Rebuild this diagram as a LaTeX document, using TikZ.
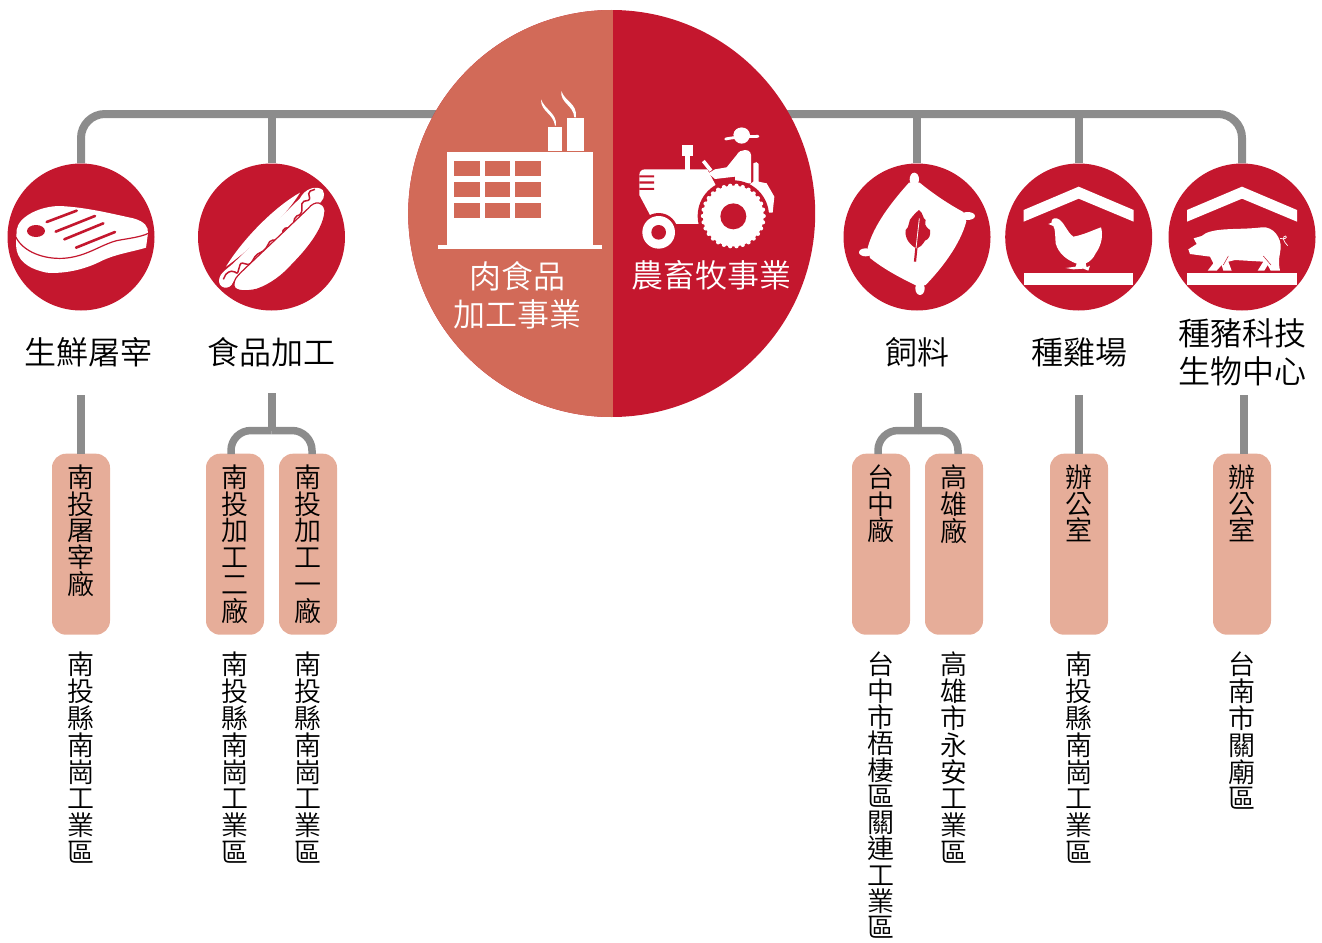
\documentclass[tikz,border=0pt]{standalone}
\usepackage{fontspec}
\newfontfamily\cjk{Noto Sans CJK TC DemiLight}
\usetikzlibrary{backgrounds}
\definecolor{crimson}{HTML}{C4172E}
\definecolor{salmon}{HTML}{D26A58}
\definecolor{pillc}{HTML}{E6AD99}
\definecolor{linec}{HTML}{8C8C8C}
\lineskiplimit=-20pt
\tikzset{
  medal/.style={circle,fill=crimson,inner sep=0pt,minimum size=147pt},
  conn/.style={draw=linec,line width=8pt},
  pill/.style={rectangle,rounded corners=14pt,fill=pillc,inner sep=0pt,minimum width=58pt,minimum height=181pt,anchor=north},
  vtxt/.style={font=\cjk\fontsize{27}{26.8}\selectfont,align=center,inner sep=0pt,anchor=north,text=black},
  vtight/.style={vtxt,font=\cjk\fontsize{27}{26.3}\selectfont},
  heading/.style={font=\cjk\fontsize{32}{38}\selectfont,align=center,inner sep=0pt,text=black},
  herotxt/.style={font=\cjk\fontsize{32}{38}\selectfont,align=center,inner sep=0pt,text=white},
  zoomA/.style={shift={(0,150)},x=0.33333pt,y=-0.33333pt},
  zoomB/.style={shift={(420,80)},x=0.33333pt,y=-0.33333pt},
  zoomC/.style={shift={(835,150)},x=0.33333pt,y=-0.33333pt},
}
\begin{document}
\begin{tikzpicture}[x=1pt,y=-1pt]
\useasboundingbox (0,0) rectangle (1322,942);
\node[circle,inner sep=0pt,minimum size=407pt,fill=crimson,
  path picture={\fill[salmon] (path picture bounding box.south west) rectangle ([xshift=1.3pt]path picture bounding box.north);}] (big) at (611.7,213.5) {};
\node[medal] (m1) at (81,237) {};
\node[medal] (m2) at (271.5,237) {};
\node[medal] (m3) at (917,237) {};
\node[medal] (m4) at (1078.7,237) {};
\node[medal] (m5) at (1242,237) {};
\coordinate (busc) at (612,114);
\begin{scope}[on background layer]
\draw[conn,rounded corners=24pt] (busc) -| (m1.north);
\draw[conn] (busc) -| (m2.north);
\draw[conn] (busc) -| (m3.north);
\draw[conn] (busc) -| (m4.north);
\draw[conn,rounded corners=24pt] (busc) -| (m5.north);
\end{scope}
% headings
\node[heading] (h1) at (88,352) {生鮮屠宰};
\node[heading] (h2) at (271,352) {食品加工};
\node[heading] (h3) at (917,352) {飼料};
\node[heading] (h4) at (1079,352) {種雞場};
\node[heading] (h5) at (1242,352) {種豬科技\\生物中心};
\node[herotxt] (t1) at (517,295) {肉食品\\加工事業};
\node[herotxt] (t2) at (711,275) {農畜牧事業};
% pills
\node[pill] (p1) at (81,453.5) {};
\node[pill] (p2) at (235,453.5) {};
\node[pill] (p3) at (308,453.5) {};
\node[pill] (p4) at (881,453.5) {};
\node[pill] (p5) at (954,453.5) {};
\node[pill] (p6) at (1079,453.5) {};
\node[pill] (p7) at (1242,453.5) {};
\coordinate (f1) at (81,395);
\coordinate (f2) at (271.5,393);
\coordinate (j2) at (271.5,430.5);
\coordinate (k2) at (231,454);
\coordinate (k3) at (312,454);
\coordinate (f4) at (918,393);
\coordinate (j4) at (918,430.5);
\coordinate (k4) at (878,454);
\coordinate (k5) at (958,454);
\coordinate (f6) at (1079,395);
\coordinate (f7) at (1244,395);
\coordinate (e7) at (1244,453.5);
\draw[conn] (f1) -- (p1.north);
\draw[conn] (f2) -- (j2);
\draw[conn,line width=7.5pt,rounded corners=20pt] (j2) -| (k2);
\draw[conn,line width=7.5pt,rounded corners=20pt] (j2) -| (k3);
\draw[conn] (f4) -- (j4);
\draw[conn,line width=7.5pt,rounded corners=20pt] (j4) -| (k4);
\draw[conn,line width=7.5pt,rounded corners=20pt] (j4) -| (k5);
\draw[conn] (f6) -- (p6.north);
\draw[conn] (f7) -- (e7);
% pill labels
\node[vtxt] (a1) at (81,464.5) {南\\投\\屠\\宰\\廠};
\node[vtxt] (a2) at (235,464.5) {南\\投\\加\\工\\二\\廠};
\node[vtxt] (a3) at (308,464.5) {南\\投\\加\\工\\一\\廠};
\node[vtxt] (a4) at (881,464.5) {台\\中\\廠};
\node[vtxt] (a5) at (954,464.5) {高\\雄\\廠};
\node[vtxt] (a6) at (1079,464.5) {辦\\公\\室};
\node[vtxt] (a7) at (1242,464.5) {辦\\公\\室};
% addresses
\node[vtxt] (b1) at (81,652) {南\\投\\縣\\南\\崗\\工\\業\\區};
\node[vtxt] (b2) at (235,652) {南\\投\\縣\\南\\崗\\工\\業\\區};
\node[vtxt] (b3) at (308,652) {南\\投\\縣\\南\\崗\\工\\業\\區};
\node[vtight] (b4) at (881,652) {台\\中\\市\\梧\\棲\\區\\關\\連\\工\\業\\區};
\node[vtxt] (b5) at (954,652) {高\\雄\\市\\永\\安\\工\\業\\區};
\node[vtxt] (b6) at (1079,652) {南\\投\\縣\\南\\崗\\工\\業\\區};
\node[vtxt] (b7) at (1242,652) {台\\南\\市\\關\\廟\\區};
% ---- meat
\begin{scope}[zoomA]
\fill[white] (50,240) .. controls (55,200) and (120,168) .. (180,168)
  .. controls (260,172) and (330,190) .. (400,205)
  .. controls (435,215) and (445,230) .. (444,250)
  -- (438,293) .. controls (400,305) and (345,312) .. (300,335)
  .. controls (250,360) and (190,372) .. (140,368)
  .. controls (80,355) and (50,330) .. (48,285) -- cycle;
\draw[crimson,line width=1.2pt] (48,262) .. controls (70,305) and (130,328) .. (190,325)
  .. controls (260,320) and (300,285) .. (350,272) .. controls (385,265) and (420,262) .. (445,250);
\fill[crimson] (108,243) ellipse (27 and 18);
\draw[crimson,line width=2.6pt,line cap=round] (140,216) -- (230,182) (167,245) -- (285,198) (193,268) -- (310,220) (228,293) -- (345,246);
% ---- hot dog
\fill[white] (678,350) .. controls (730,265) and (825,170) .. (900,128) .. controls (860,195) and (760,290) .. (678,350) -- cycle;
\fill[white] (658,385) .. controls (660,370) and (680,358) .. (700,340) -- (900,145) .. controls (915,115) and (950,105) .. (968,120)
  .. controls (978,135) and (970,155) .. (950,165) -- (700,395) .. controls (690,425) and (650,415) .. (658,385) -- cycle;
\draw[crimson,line width=1.5pt,rounded corners=2pt] (670,388) -- (680,368) -- (700,362) -- (712,372) -- (722,338) -- (750,345) -- (768,315) -- (795,300) -- (812,270) -- (845,272) -- (850,235) -- (878,232) -- (885,200) -- (905,192) -- (906,155) -- (930,150) -- (925,125) -- (945,118);
\fill[white,draw=crimson,line width=1.2pt] (702,408) .. controls (700,390) and (710,380) .. (725,365) -- (925,175) .. controls (945,150) and (970,155) .. (975,180)
  .. controls (975,230) and (925,295) .. (880,340) .. controls (850,375) and (810,405) .. (770,418) .. controls (740,425) and (705,425) .. (702,408) -- cycle;
\end{scope}
% ---- factory and tractor
\begin{scope}[zoomB]
\fill[white] (82,217) rectangle (519,495);
\fill[white] (55,495) rectangle (547,507);
\foreach \xa/\xb in {103/181,194/271,285/362}
  \foreach \ya/\yb in {242/287,305/350,369/414}
    \fill[salmon] (\xa,\ya) rectangle (\xb,\yb);
\fill[white] (384,140) rectangle (426,213);
\fill[white] (441,114) rectangle (492,213);
\fill[white] (363,58) .. controls (362,95) and (400,100) .. (405,137) -- (408,137) .. controls (412,100) and (375,90) .. (363,58) -- cycle;
\fill[white] (424,33) .. controls (420,70) and (460,75) .. (463,112) -- (468,112) .. controls (472,70) and (435,65) .. (424,33) -- cycle;
% tractor
\fill[white] (675,268) -- (862,268) -- (900,340) -- (860,432) -- (765,432) -- (720,400) -- (690,405) -- (658,345) -- (658,285) .. controls (658,275) and (665,268) .. (675,268) -- cycle;
\fill[crimson] (658,286) rectangle (702,292) (658,304) rectangle (702,311) (658,324) rectangle (702,330);
\fill[white] (786,194) rectangle (818,228);
\fill[white] (795,228) rectangle (810,270);
\draw[white,line width=3.6pt] (850,243) -- (873,272);
% driver
\fill[white] (965,167) circle (24);
\fill[white] (940,165) .. controls (942,135) and (988,135) .. (990,165) -- cycle;
\draw[white,line width=2.8pt,line cap=round] (917,177) .. controls (950,170) and (985,170) .. (1014,169);
\fill[white] (975,210) .. controls (990,210) and (995,220) .. (993,235) -- (993,310) -- (945,310) -- (945,290) -- (885,297) -- (865,280) -- (885,268) -- (920,262) -- (950,225) .. controls (955,215) and (965,210) .. (975,210) -- cycle;
\fill[white] (1000,250) .. controls (1005,245) and (1015,245) .. (1016,252) -- (1016,305) -- (1040,310) -- (1063,350) -- (1058,398) -- (1040,398) -- (980,320) -- (1000,305) -- cycle;
% wheels
\fill[crimson] (940,408) circle (107);
\fill[white] (940,408) circle (91);
\foreach \a in {0,12,...,348} \fill[white] (940,408) ++(\a:91) circle (6.5);
\fill[crimson] (940,409) circle (39);
\fill[crimson] (716,457) circle (58);
\fill[white] (716,457) circle (49);
\fill[crimson] (716,457) circle (22);
\end{scope}
% ---- sack, hen, pig
\begin{scope}[zoomC]
\fill[white] (222,98) -- (254,98) .. controls (295,132) and (345,165) .. (385,186) -- (394,214) .. controls (375,285) and (320,355) .. (272,405)
  -- (240,405) .. controls (200,385) and (150,360) .. (105,324) -- (98,294) .. controls (115,225) and (175,150) .. (222,98) -- cycle;
\fill[white] (238,88) ellipse (14 and 20);
\fill[white] (255,415) ellipse (14 and 20);
\fill[white] (398,198) ellipse (22 and 12);
\fill[white] (92,307) ellipse (20 and 12);
\fill[crimson] (252,180) .. controls (265,188) and (262,205) .. (272,210) .. controls (270,222) and (268,228) .. (285,240) .. controls (288,255) and (282,268) .. (270,272)
  .. controls (262,285) and (255,292) .. (245,296) .. controls (225,285) and (208,265) .. (212,240) .. controls (225,232) and (218,210) .. (232,200) .. controls (238,192) and (245,185) .. (252,180) -- cycle;
\draw[crimson,line width=2.2pt] (245,285) -- (240,335);
\draw[white,line width=0.8pt] (253,205) -- (243,295);
\fill[white] (566,180) -- (731,110) -- (896,180) -- (896,215) -- (731,146) -- (566,215) -- cycle;
\fill[white] (566,370) rectangle (895,405);
\fill[white] (1056,180) -- (1221,110) -- (1386,180) -- (1386,215) -- (1221,146) -- (1056,215) -- cycle;
\fill[white] (1056,370) rectangle (1385,405);
% hen
\fill[white] (640,222) -- (650,218) .. controls (645,205) and (665,200) .. (675,210) .. controls (690,222) and (695,245) .. (715,260)
  .. controls (745,255) and (775,240) .. (798,232) .. controls (805,255) and (800,285) .. (782,310) .. controls (775,325) and (765,335) .. (752,340)
  -- (755,352) -- (765,347) -- (760,362) -- (745,356) -- (715,358) -- (692,354) -- (722,350) -- (725,341)
  .. controls (695,330) and (670,310) .. (662,280) .. controls (660,260) and (662,240) .. (655,228) -- cycle;
% pig
\fill[white] (1060,298) -- (1085,282) -- (1076,265) -- (1100,258) -- (1112,250) .. controls (1150,232) and (1220,240) .. (1280,232)
  .. controls (1315,228) and (1340,265) .. (1337,295) .. controls (1335,315) and (1328,330) .. (1335,362) -- (1307,362) -- (1298,345) -- (1288,362) -- (1268,362) -- (1285,335)
  -- (1200,330) -- (1180,335) -- (1190,362) -- (1165,362) -- (1160,345) -- (1145,362) -- (1118,362) -- (1135,340) -- (1125,320) -- (1095,316) -- (1065,312) -- cycle;
\draw[crimson,line width=0.5pt] (1180,318) -- (1165,345) (1285,318) -- (1308,345);
\draw[white,line width=0.7pt] (1335,265) .. controls (1350,270) and (1358,262) .. (1352,258) .. controls (1340,258) and (1345,275) .. (1358,287);
\end{scope}
\end{tikzpicture}
\end{document}
